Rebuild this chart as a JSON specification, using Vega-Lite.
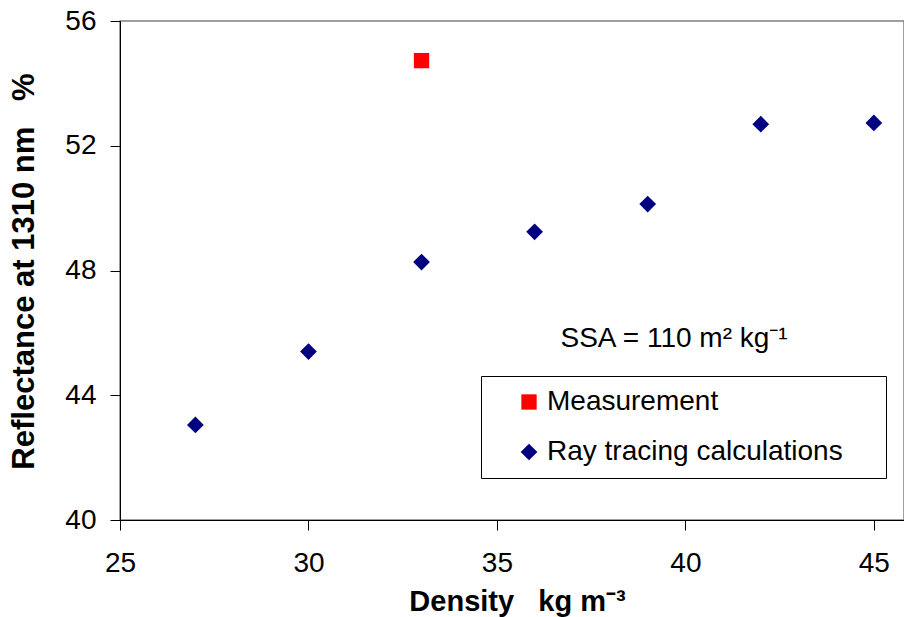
{
  "$schema": "https://vega.github.io/schema/vega-lite/v6.json",
  "autosize": "none",
  "width": 784,
  "height": 499,
  "padding": {"left": 120, "top": 21, "right": 0, "bottom": 97},
  "background": "white",
  "config": {
    "font": "Liberation Sans",
    "view": {"stroke": "#808080", "strokeWidth": 1.5}
  },
  "datasets": {
    "points": [
      {"density": 33, "reflectance": 54.73, "series": "Measurement"},
      {"density": 27, "reflectance": 43.05, "series": "Ray tracing calculations"},
      {"density": 30, "reflectance": 45.4, "series": "Ray tracing calculations"},
      {"density": 33, "reflectance": 48.27, "series": "Ray tracing calculations"},
      {"density": 36, "reflectance": 49.24, "series": "Ray tracing calculations"},
      {"density": 39, "reflectance": 50.13, "series": "Ray tracing calculations"},
      {"density": 42, "reflectance": 52.69, "series": "Ray tracing calculations"},
      {"density": 45, "reflectance": 52.73, "series": "Ray tracing calculations"}
    ],
    "notes": [
      {"density": 39.7, "reflectance": 45.56, "text": "SSA = 110 m² kg⁻¹"}
    ]
  },
  "layer": [
    {
      "data": {"name": "points"},
      "mark": {"type": "point", "filled": true, "opacity": 1, "strokeWidth": 0},
      "encoding": {
        "x": {
          "field": "density",
          "type": "quantitative",
          "scale": {"domain": [25, 45.8], "nice": false, "zero": false},
          "axis": {
            "values": [25, 30, 35, 40, 45],
            "title": "Density\u00a0\u00a0\u00a0kg m⁻³",
            "titleFontSize": 29,
            "titleFontWeight": "bold",
            "titleColor": "black",
            "titleX": 397,
            "titleY": 90,
            "titleAlign": "center",
            "titleBaseline": "alphabetic",
            "labelFontSize": 28,
            "labelColor": "black",
            "labelPadding": 19,
            "labelFlush": false,
            "labelOverlap": false,
            "domainColor": "black",
            "tickColor": "black",
            "tickSize": 10,
            "grid": false
          }
        },
        "y": {
          "field": "reflectance",
          "type": "quantitative",
          "scale": {"domain": [40, 56], "nice": false, "zero": false},
          "axis": {
            "values": [40, 44, 48, 52, 56],
            "title": "Reflectance at 1310 nm\u00a0\u00a0\u00a0%",
            "titleFontSize": 31,
            "titleFontWeight": "bold",
            "titleColor": "black",
            "titleAngle": 270,
            "titleX": -96,
            "titleY": 250,
            "titleAlign": "center",
            "titleBaseline": "middle",
            "labelFontSize": 28,
            "labelColor": "black",
            "labelPadding": 14,
            "labelFlush": false,
            "labelOverlap": false,
            "domainColor": "black",
            "tickColor": "black",
            "tickSize": 10,
            "grid": false
          }
        },
        "color": {
          "field": "series",
          "type": "nominal",
          "scale": {"domain": ["Measurement", "Ray tracing calculations"], "range": ["#FF0000", "#000080"]},
          "legend": {
            "title": null,
            "orient": "none",
            "legendX": 361,
            "legendY": 355,
            "strokeColor": "black",
            "fillColor": "white",
            "padding": 12,
            "labelFontSize": 28,
            "labelColor": "black",
            "labelLimit": 500,
            "labelExpr": "datum.label + '\u00a0\u00a0\u00a0\u00a0\u200b'",
            "symbolSize": 260,
            "symbolOffset": 22,
            "labelOffset": 4,
            "rowPadding": 22,
            "symbolStrokeWidth": 0,
            "symbolOpacity": 1
          }
        },
        "shape": {
          "field": "series",
          "type": "nominal",
          "scale": {"domain": ["Measurement", "Ray tracing calculations"], "range": ["square", "diamond"]}
        },
        "size": {
          "field": "series",
          "type": "nominal",
          "scale": {"domain": ["Measurement", "Ray tracing calculations"], "range": [235, 280]},
          "legend": null
        }
      }
    },
    {
      "data": {"name": "notes"},
      "mark": {"type": "text", "fontSize": 28, "align": "center", "baseline": "alphabetic", "color": "black"},
      "encoding": {
        "x": {"field": "density", "type": "quantitative"},
        "y": {"field": "reflectance", "type": "quantitative"},
        "text": {"field": "text", "type": "nominal"}
      }
    }
  ]
}
